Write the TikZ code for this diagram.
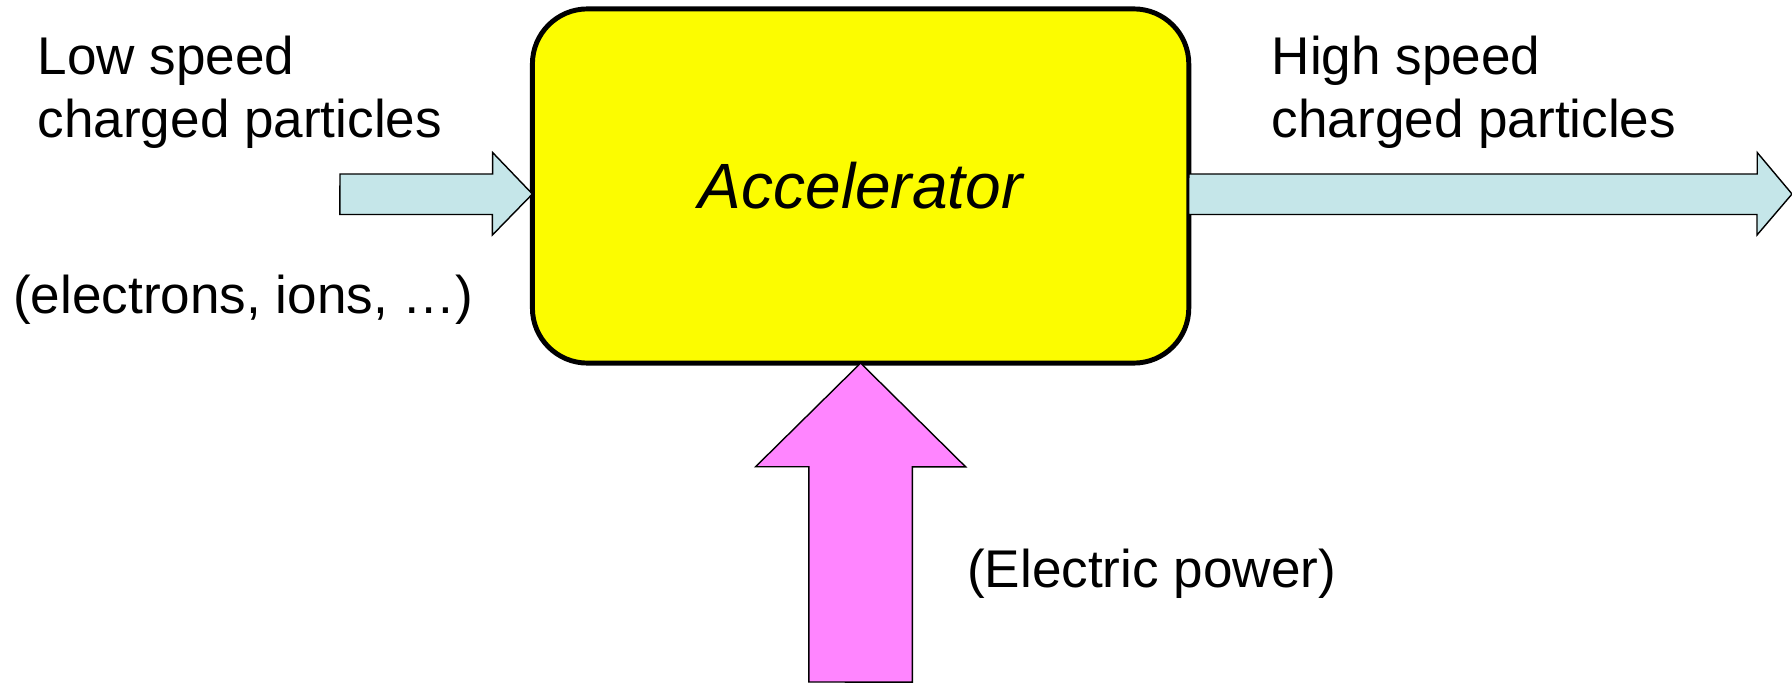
\documentclass[tikz,border=0pt]{standalone}
\usepackage{fontspec}
\setmainfont{Liberation Sans}
\usepackage{tikz}
\usetikzlibrary{calc}
\definecolor{accyellow}{HTML}{FCFC00}
\definecolor{beamblue}{HTML}{C5E6E9}
\definecolor{powerpink}{HTML}{FF85FF}
\tikzset{
  accbox/.style={draw=black, fill=accyellow, line width=1.4pt, rounded corners=0.55cm, minimum width=6.56cm, minimum height=3.54cm, inner sep=0pt, outer sep=0pt, font=\fontsize{18.2}{21}\selectfont\itshape},
  lab/.style={inner sep=0pt, anchor=base west, align=left, font=\fontsize{15.1}{17.9}\selectfont},
  beam/.style={draw=black, fill=beamblue, line width=0.4pt},
  power/.style={draw=black, fill=powerpink, line width=0.4pt},
}

\begin{document}
\begin{tikzpicture}[x=0.01cm, y=-0.01cm]
        \useasboundingbox (0,0) rectangle (1792,682);
        \node[accbox] (acc) at (860.6,186) {\raisebox{-0.03cm}{Accelerator}};
        \coordinate (lowin)   at (340,194);
        \coordinate (highout) at (1792,194);
        \coordinate (mains)   at (860.6,682);
        % beam in, beam out
        \draw[beam] (lowin) ++(0,-20) -- ++(152.6,0) -- ++(0,-21.5) -- (acc.west |- lowin)
                    -- ++(-40,41) -- ++(0,-20.5) -- ++(-152.6,0) -- cycle;
        \draw[beam] (acc.east |- highout) ++(0,-20) -- ++(568.4,0) -- ++(0,-21.5) -- (highout)
                    -- ++(-35,41) -- ++(0,-20.5) -- ++(-568.4,0) -- cycle;
        % power feed
        \draw[power] (mains) ++(-51.7,0) -- ++(0,-215.3) -- ++(-53.3,0) -- (acc.south)
                     -- ++(105,103.7) -- ++(-53.3,0) -- ++(0,215.3) -- cycle;
        \node[lab] (lowlab)  at (37,137)   {Low speed\\charged particles};
        \node[lab] (kinds)   at (12.5,313) {(electrons, ions, …)};
        \node[lab] (highlab) at (1271,137) {High speed\\charged particles};
        \node[lab] (powlab)  at (966.5,587) {(Electric power)};
      \end{tikzpicture}
\end{document}
